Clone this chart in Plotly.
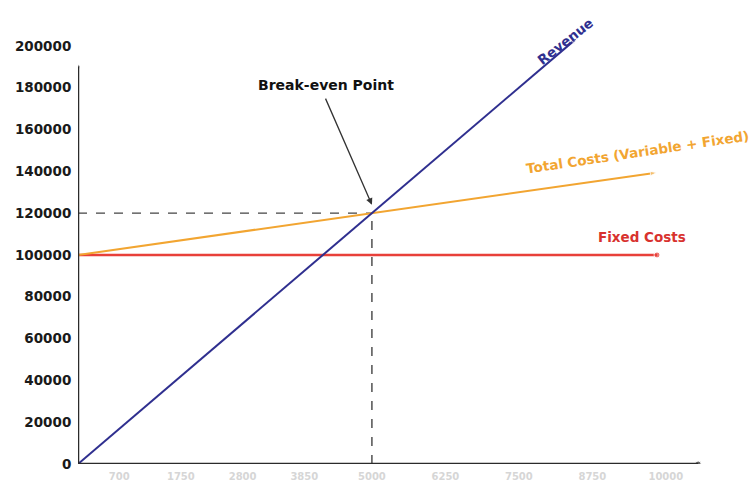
import plotly.graph_objects as go

# ---- data ----
revenue_units = [0, 8500]
revenue_vals = [0, 204000]
cost_units = [0, 9850]
total_costs = [100000, 139400]
fixed_costs = [100000, 100000]
break_even_units = 5000
break_even_value = 120000
y_ticks = [0, 20000, 40000, 60000, 80000, 100000, 120000, 140000, 160000, 180000, 200000]
x_ticks = [700, 1750, 2800, 3850, 5000, 6250, 7500, 8750, 10000]
x_tick_text = ["700", "1750", "2800", "3850", "5000", "6250", "7500", "8750", "10000"]

NAVY = "#2f2f8f"
ORANGE = "#f2a531"
RED = "#e8403a"
AXIS = "#2b2b2b"
FONT = "DejaVu Sans, Arial, sans-serif"

fig = go.Figure()

# dashed guide lines to break-even point
fig.add_trace(go.Scatter(x=[0, break_even_units], y=[break_even_value, break_even_value],
                         mode="lines", line=dict(color="#444", width=1.4, dash="dash"),
                         hoverinfo="skip", showlegend=False))
fig.add_trace(go.Scatter(x=[break_even_units, break_even_units], y=[0, break_even_value],
                         mode="lines", line=dict(color="#444", width=1.4, dash="dash"),
                         hoverinfo="skip", showlegend=False))

fig.add_trace(go.Scatter(x=cost_units, y=fixed_costs, mode="lines+markers",
                         line=dict(color=RED, width=2.5),
                         marker=dict(size=[0, 6], color=RED, symbol="circle"),
                         name="Fixed Costs", showlegend=False))
fig.add_trace(go.Scatter(x=cost_units, y=total_costs, mode="lines+markers",
                         line=dict(color=ORANGE, width=2),
                         marker=dict(size=[0, 7], color=ORANGE, symbol="arrow", angleref="previous"),
                         name="Total Costs", showlegend=False))
fig.add_trace(go.Scatter(x=revenue_units, y=revenue_vals, mode="lines+markers",
                         line=dict(color=NAVY, width=2),
                         marker=dict(size=[0, 7], color=NAVY, symbol="arrow", angleref="previous"),
                         name="Revenue", showlegend=False))

# axes drawn as lines with end dots
fig.add_shape(type="line", x0=0, y0=0, x1=0, y1=190000, xref="x", yref="y",
              line=dict(color=AXIS, width=2.5))
fig.add_shape(type="line", x0=0, y0=0, x1=10550, y1=0, xref="x", yref="y",
              line=dict(color=AXIS, width=2.5))
fig.add_trace(go.Scatter(x=[0, 10550], y=[190000, 0], mode="markers",
                         marker=dict(size=[4, 6], color=AXIS), hoverinfo="skip", showlegend=False))

# texts
fig.add_annotation(x=8290, y=202500, text="<b>Revenue</b>", showarrow=False, textangle=-38,
                   font=dict(family=FONT, size=13.5, color=NAVY))
fig.add_annotation(x=9520, y=149300, text="<b>Total Costs (Variable + Fixed)</b>", showarrow=False,
                   textangle=-8.5, font=dict(family=FONT, size=13.5, color=ORANGE))
fig.add_annotation(x=9590, y=108600, text="<b>Fixed Costs</b>", showarrow=False,
                   font=dict(family=FONT, size=13.5, color="#d8322e"))
fig.add_annotation(x=4220, y=181300, text="<b>Break-even Point</b>", showarrow=False,
                   font=dict(family=FONT, size=14, color="#111"))
fig.add_annotation(x=break_even_units, y=124000, ax=4200, ay=175500, axref="x", ayref="y",
                   xref="x", yref="y", text="", showarrow=True, arrowhead=2, arrowsize=1,
                   arrowwidth=1.3, arrowcolor="#333")

fig.update_layout(
    width=754, height=484,
    margin=dict(l=78, r=0, t=25, b=20, autoexpand=False),
    paper_bgcolor="white", plot_bgcolor="white",
    showlegend=False,
    xaxis=dict(range=[0, 11500], showgrid=False, zeroline=False, showline=False,
               automargin=False,
               tickvals=x_ticks, ticktext=x_tick_text, ticks="outside", ticklen=3,
               tickcolor="rgba(0,0,0,0)",
               tickfont=dict(family=FONT, size=10, color="#d6d6d6", weight="bold")),
    yaxis=dict(range=[0, 210000], showgrid=False, zeroline=False, showline=False,
               automargin=False,
               tickvals=y_ticks, ticks="outside", ticklen=3, tickcolor="rgba(0,0,0,0)",
               tickformat="d",
               tickfont=dict(family=FONT, size=13.5, color="#1a1a1a", weight="bold")),
)

fig.write_html("out.html")
